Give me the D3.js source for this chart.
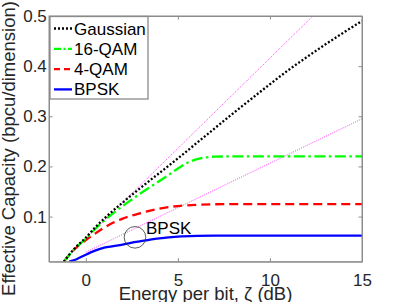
<!DOCTYPE html>
<html>
<head>
<meta charset="utf-8">
<script src="https://cdn.jsdelivr.net/npm/d3@7"></script>
<style>
    body { margin: 0; background: #fff; }
    svg { display: block; font-family: "Liberation Sans", Arial, sans-serif; }
</style>
</head>
<body>
<svg class="chart"></svg>
<script>
// values (x in dB, y in bpcu/dimension)
const gaussianDb = [-1.2, -0.6, 0, 0.5, 1, 2, 3, 4, 5, 6, 7, 8, 9, 10, 11, 12, 13, 14, 15];
const gaussianCap = [0.01, 0.037, 0.058, 0.078, 0.096, 0.128, 0.158, 0.187, 0.216, 0.246, 0.276, 0.306, 0.335, 0.364, 0.392, 0.418, 0.443, 0.467, 0.49];

const qam16Db = [-1.2, -0.6, 0, 0.5, 1, 1.5, 2, 2.5, 3, 3.5, 4, 4.5, 5, 5.5, 6, 6.5, 7, 8, 15];
const qam16Cap = [0.01, 0.036, 0.056, 0.075, 0.092, 0.107, 0.121, 0.134, 0.147, 0.159, 0.171, 0.183, 0.196, 0.207, 0.214, 0.218, 0.2195, 0.22, 0.22];

const qam4Db = [-1.2, -0.6, 0, 0.5, 1, 1.5, 2, 2.5, 3, 3.5, 4, 4.5, 5, 6, 7, 8, 15];
const qam4Cap = [0.01, 0.035, 0.053, 0.066, 0.078, 0.088, 0.096, 0.102, 0.107, 0.112, 0.116, 0.119, 0.121, 0.1235, 0.1245, 0.125, 0.125];

const bpskDb = [-0.9, -0.5, 0, 0.5, 1, 1.5, 2, 2.5, 3, 3.5, 4, 5, 6, 7, 15];
const bpskCap = [0.01, 0.015, 0.024, 0.032, 0.038, 0.041, 0.044, 0.048, 0.051, 0.054, 0.0565, 0.06, 0.0615, 0.062, 0.062];

// the two thin reference lines
const upperRefDb = [0, 12.33];
const upperRefCap = [0.056, 0.5];
const lowerRefDb = [0, 15];
const lowerRefCap = [0.029, 0.295];

const legendNames = [`Gaussian`, `16-QAM`, `4-QAM`, `BPSK`];
const xTicks = [0, 5, 10, 15];
const yTicks = [0.1, 0.2, 0.3, 0.4, 0.5];

const annotDb = 2.67;
const annotCap = 0.0586;
const annotText = `BPSK`;
const annotTextDb = 3.27;
const annotTextCap = 0.0654;

const width = 403;
const height = 302;
const plotLeft = 49;
const plotRight = 362;
const plotTop = 16;
const plotBottom = 261.7;
const axisColor = `#8c8c8c`;
const textColor = `#262626`;

const xScale = d3.scaleLinear().domain([-2, 15]).range([plotLeft, plotRight]);
const yScale = d3.scaleLinear().domain([0.01, 0.5]).range([plotBottom, plotTop]);

const chart = d3.select(`.chart`)
    .attr(`width`, width)
    .attr(`height`, height);

chart.append(`clipPath`)
    .attr(`id`, `plot-clip`)
    .append(`rect`)
    .attr(`x`, plotLeft)
    .attr(`y`, plotTop)
    .attr(`width`, plotRight - plotLeft)
    .attr(`height`, plotBottom - plotTop);

// axes, ticks inside on all four sides
const styleAxis = (g) => {
    g.selectAll(`.domain`).attr(`stroke`, axisColor);
    g.selectAll(`.tick line`).attr(`stroke`, axisColor);
    g.selectAll(`.tick text`)
        .attr(`fill`, textColor)
        .style(`font-size`, `17px`)
        .style(`font-family`, `"Liberation Sans", Arial, sans-serif`);
};

chart.append(`g`)
    .attr(`transform`, `translate(0, ${plotBottom})`)
    .call(d3.axisBottom(xScale).tickValues(xTicks).tickSizeInner(-3.5).tickSizeOuter(0).tickPadding(11.8))
    .call(styleAxis);

chart.append(`g`)
    .attr(`transform`, `translate(0, ${plotTop})`)
    .call(d3.axisTop(xScale).tickValues(xTicks).tickSizeInner(-3.5).tickSizeOuter(0).tickFormat(``))
    .call(styleAxis);

chart.append(`g`)
    .attr(`transform`, `translate(${plotLeft}, 0)`)
    .call(d3.axisLeft(yScale).tickValues(yTicks).tickSizeInner(-3.5).tickSizeOuter(0).tickPadding(2.2).tickFormat(d3.format(`.1f`)))
    .call(styleAxis);

chart.append(`g`)
    .attr(`transform`, `translate(${plotRight}, 0)`)
    .call(d3.axisRight(yScale).tickValues(yTicks).tickSizeInner(-3.5).tickSizeOuter(0).tickFormat(``))
    .call(styleAxis);

// curves
const line = d3.line()
    .x(d => xScale(d[0]))
    .y(d => yScale(d[1]))
    .curve(d3.curveMonotoneX);

const plot = chart.append(`g`).attr(`clip-path`, `url(#plot-clip)`);

const series = [
    { db: upperRefDb, cap: upperRefCap, color: `#ff00ff`, dash: `1,1.3`, w: 0.8 },
    { db: lowerRefDb, cap: lowerRefCap, color: `#ff00ff`, dash: `1,1.3`, w: 0.8 },
    { db: bpskDb, cap: bpskCap, color: `#0000ff`, dash: null, w: 2.3, legendDash: null },
    { db: qam4Db, cap: qam4Cap, color: `#ff0000`, dash: `9,5`, w: 2.3, legendDash: `6,4` },
    { db: qam16Db, cap: qam16Cap, color: `#00ff00`, dash: `11,3.5,2.5,3.5`, w: 2.3, legendDash: `7,2.5,2,2.5` },
    { db: gaussianDb, cap: gaussianCap, color: `#000000`, dash: `2,2`, w: 2.3, legendDash: `2,2` },
];

plot.selectAll(`path.curve`)
    .data(series)
    .enter()
    .append(`path`)
    .attr(`class`, `curve`)
    .attr(`d`, s => line(d3.zip(s.db, s.cap)))
    .attr(`fill`, `none`)
    .attr(`stroke`, s => s.color)
    .attr(`stroke-width`, s => s.w)
    .attr(`stroke-dasharray`, s => s.dash);

// annotation
chart.append(`circle`)
    .attr(`cx`, xScale(annotDb))
    .attr(`cy`, yScale(annotCap))
    .attr(`r`, 10.8)
    .attr(`fill`, `none`)
    .attr(`stroke`, `#333`)
    .attr(`stroke-width`, 0.8);

chart.append(`text`)
    .attr(`x`, xScale(annotTextDb))
    .attr(`y`, yScale(annotTextCap))
    .attr(`fill`, `#000`)
    .style(`font-size`, `17px`)
    .text(annotText);

// box
chart.append(`rect`)
    .attr(`x`, plotLeft)
    .attr(`y`, plotTop)
    .attr(`width`, plotRight - plotLeft)
    .attr(`height`, plotBottom - plotTop)
    .attr(`fill`, `none`)
    .attr(`stroke`, axisColor);

// legend
const legend = chart.append(`g`);
legend.append(`rect`)
    .attr(`x`, 50)
    .attr(`y`, 16.5)
    .attr(`width`, 98)
    .attr(`height`, 82.5)
    .attr(`fill`, `#fff`)
    .attr(`stroke`, `#8a8a8a`)
    .attr(`stroke-width`, 1.3);

const legendSeries = [series[5], series[4], series[3], series[2]];
const rows = legend.selectAll(`g.row`)
    .data(legendNames)
    .enter()
    .append(`g`)
    .attr(`class`, `row`)
    .attr(`transform`, (d, i) => `translate(0, ${28.5 + i * 20.3})`);

rows.append(`line`)
    .attr(`x1`, 54)
    .attr(`x2`, 72)
    .attr(`stroke`, (d, i) => legendSeries[i].color)
    .attr(`stroke-width`, 2.3)
    .attr(`stroke-dasharray`, (d, i) => legendSeries[i].legendDash);

rows.append(`text`)
    .attr(`x`, 74)
    .attr(`y`, 6)
    .attr(`fill`, `#000`)
    .style(`font-size`, `17px`)
    .text(d => d);

// axis labels
chart.append(`text`)
    .attr(`x`, (plotLeft + plotRight) / 2)
    .attr(`y`, 300)
    .attr(`text-anchor`, `middle`)
    .attr(`fill`, textColor)
    .style(`font-size`, `18.5px`)
    .text(`Energy per bit, ζ (dB)`);

chart.append(`text`)
    .attr(`transform`, `translate(15, 148.5) rotate(-90)`)
    .attr(`text-anchor`, `middle`)
    .attr(`fill`, textColor)
    .style(`font-size`, `18.5px`)
    .text(`Effective Capacity (bpcu/dimension)`);
</script>
</body>
</html>
